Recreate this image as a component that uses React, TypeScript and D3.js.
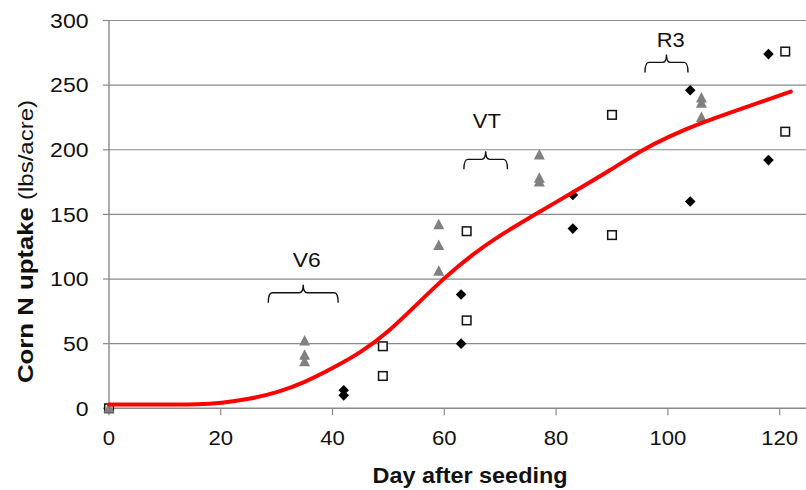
import React, { useEffect, useRef } from "react";
import * as d3 from "d3";

// open squares
const squareDays = [0, 49, 49, 64, 64, 90, 90, 121, 121];
const squareUptake = [0, 48, 25, 68, 137, 227, 134, 276, 214];
// black diamonds
const diamondDays = [42, 42, 63, 63, 83, 83, 104, 104, 118, 118];
const diamondUptake = [14, 10, 88, 50, 165, 139, 246, 160, 274, 192];
// gray triangles
const triangleDays = [0, 35, 35, 35, 59, 59, 59, 77, 77, 77, 106, 106, 106];
const triangleUptake = [0, 52, 41, 36, 142, 126, 106, 196, 178, 175, 240, 236, 225];

// red fitted curve
const curveDays = [0, 10, 16, 20, 25, 30, 35, 40, 45, 50, 55, 60, 65, 70, 77, 83, 90, 95, 100, 106, 114, 122];
const curveUptake = [3, 3, 3, 4, 7, 12, 20, 31, 43, 59, 80, 101, 119, 134, 152, 167, 185, 199, 210, 221, 233, 245];

// growth stage brackets
const stageLabels = ["V6", "VT", "R3"];
const stageStart = [28.5, 63.5, 95.9];
const stageEnd = [41, 71.3, 103.6];
const stageLevel = [89.4, 192.6, 267.6];
const stageLabelDay = [35.4, 67.6, 100.5];
const stageLabelValue = [109.5, 216.5, 279.7];

const xTicks = [0, 20, 40, 60, 80, 100, 120];
const yTicks = [0, 50, 100, 150, 200, 250, 300];

const App = () => {
  const ref = useRef<SVGSVGElement>(null);

  useEffect(() => {
    const width = 806,
      height = 490;
    const svg = d3.select(ref.current).attr("width", width).attr("height", height);
    svg.selectAll("*").remove();

    const x = d3.scaleLinear().domain([0, 125]).range([109, 807.6]);
    const y = d3.scaleLinear().domain([0, 300]).range([408.3, 20.5]);
    const grey = "#8a8a8a";
    const font = "'Liberation Sans', Arial, sans-serif";

    // grid lines
    svg
      .selectAll(".grid")
      .data(yTicks.filter((d) => d > 0))
      .join("line")
      .attr("class", "grid")
      .attr("x1", x(0))
      .attr("x2", width)
      .attr("y1", (d) => y(d))
      .attr("y2", (d) => y(d))
      .attr("stroke", grey)
      .attr("stroke-width", 1.2);

    // axes lines
    svg.append("line").attr("x1", x(0)).attr("x2", width).attr("y1", y(0)).attr("y2", y(0)).attr("stroke", grey).attr("stroke-width", 1.4);
    svg.append("line").attr("x1", x(0)).attr("x2", x(0)).attr("y1", y(300)).attr("y2", y(0)).attr("stroke", grey).attr("stroke-width", 1.4);

    // y ticks + labels
    svg
      .selectAll(".ytick")
      .data(yTicks)
      .join("line")
      .attr("class", "ytick")
      .attr("x1", x(0) - 6)
      .attr("x2", x(0))
      .attr("y1", (d) => y(d))
      .attr("y2", (d) => y(d))
      .attr("stroke", grey)
      .attr("stroke-width", 1.2);
    svg
      .selectAll(".ylab")
      .data(yTicks)
      .join("text")
      .attr("class", "ylab")
      .attr("x", 88.5)
      .attr("y", (d) => y(d) + 7.2)
      .attr("text-anchor", "end")
      .attr("font-family", font)
      .attr("font-size", 20)
      .attr("fill", "#111")
      .attr("textLength", (d) => String(d).length * 12.8)
      .attr("lengthAdjust", "spacingAndGlyphs")
      .text((d) => d);

    // x ticks + labels
    svg
      .selectAll(".xtick")
      .data(xTicks)
      .join("line")
      .attr("class", "xtick")
      .attr("x1", (d) => x(d))
      .attr("x2", (d) => x(d))
      .attr("y1", y(0))
      .attr("y2", y(0) + 7)
      .attr("stroke", grey)
      .attr("stroke-width", 1.2);
    svg
      .selectAll(".xlab")
      .data(xTicks)
      .join("text")
      .attr("class", "xlab")
      .attr("x", (d) => x(d))
      .attr("y", 445)
      .attr("text-anchor", "middle")
      .attr("font-family", font)
      .attr("font-size", 20)
      .attr("fill", "#111")
      .attr("textLength", (d) => String(d).length * 12.3)
      .attr("lengthAdjust", "spacingAndGlyphs")
      .text((d) => d);

    // axis titles
    svg
      .append("text")
      .attr("x", 470)
      .attr("y", 483)
      .attr("text-anchor", "middle")
      .attr("font-family", font)
      .attr("font-weight", "bold")
      .attr("font-size", 22)
      .attr("fill", "#111")
      .attr("textLength", 195)
      .attr("lengthAdjust", "spacingAndGlyphs")
      .text("Day after seeding");

    const yTitle = svg
      .append("text")
      .attr("transform", "translate(33,241.5) rotate(-90)")
      .attr("text-anchor", "middle")
      .attr("font-family", font)
      .attr("fill", "#111")
      .attr("textLength", 283)
      .attr("lengthAdjust", "spacingAndGlyphs");
    yTitle.append("tspan").attr("font-weight", "bold").attr("font-size", 22).text("Corn N uptake ");
    yTitle.append("tspan").attr("font-size", 20.5).text("(lbs/acre)");

    // stage brackets
    const stages = stageLabels.map((label, i) => ({
      label,
      x0: x(stageStart[i]),
      x1: x(stageEnd[i]),
      yb: y(stageLevel[i]),
      lx: x(stageLabelDay[i]),
      ly: y(stageLabelValue[i]),
    }));
    svg
      .selectAll(".bracket")
      .data(stages)
      .join("path")
      .attr("class", "bracket")
      .attr("d", (d) => {
        const xc = (d.x0 + d.x1) / 2;
        const yb = d.yb;
        return `M${d.x0},${yb + 10} Q${d.x0},${yb} ${d.x0 + 4},${yb} L${xc - 4},${yb} Q${xc},${yb} ${xc},${yb - 8} Q${xc},${yb} ${xc + 4},${yb} L${d.x1 - 4},${yb} Q${d.x1},${yb} ${d.x1},${yb + 10}`;
      })
      .attr("fill", "none")
      .attr("stroke", "#111")
      .attr("stroke-width", 1.4);
    svg
      .selectAll(".stage-label")
      .data(stages)
      .join("text")
      .attr("class", "stage-label")
      .attr("x", (d) => d.lx)
      .attr("y", (d) => d.ly)
      .attr("text-anchor", "middle")
      .attr("font-family", font)
      .attr("font-size", 21)
      .attr("fill", "#111")
      .attr("textLength", 28)
      .attr("lengthAdjust", "spacingAndGlyphs")
      .text((d) => d.label);

    // SQUARES
    const squares = squareDays.map((d, i) => [d, squareUptake[i]]);
    svg
      .selectAll(".sq")
      .data(squares)
      .join("rect")
      .attr("class", "sq")
      .attr("x", (d) => x(d[0]) - 4.3)
      .attr("y", (d) => y(d[1]) - 4.3)
      .attr("width", 8.6)
      .attr("height", 8.6)
      .attr("fill", "white")
      .attr("stroke", "#111")
      .attr("stroke-width", 1.5);

    // DIAMONDS
    const diamonds = diamondDays.map((d, i) => [d, diamondUptake[i]]);
    svg
      .selectAll(".dm")
      .data(diamonds)
      .join("path")
      .attr("class", "dm")
      .attr("d", d3.symbol(d3.symbolSquare, 56)())
      .attr("transform", (d) => `translate(${x(d[0])},${y(d[1])}) rotate(45)`)
      .attr("fill", "#000");

    // TRIANGLES
    const triangles = triangleDays.map((d, i) => [d, triangleUptake[i]]);
    svg
      .selectAll(".tri")
      .data(triangles)
      .join("path")
      .attr("class", "tri")
      .attr("d", "M0,-6 L5.5,4.5 L-5.5,4.5 Z")
      .attr("transform", (d) => `translate(${x(d[0])},${y(d[1])})`)
      .attr("fill", "#808080");

    // RED CURVE
    const line = d3
      .line<number>()
      .x((d) => x(d))
      .y((d, i) => y(curveUptake[i]))
      .curve(d3.curveBasis);
    svg
      .append("path")
      .attr("d", line(curveDays))
      .attr("fill", "none")
      .attr("stroke", "#ff0000")
      .attr("stroke-width", 4)
      .attr("stroke-linecap", "round");
  }, []);

  return (
    <div>
      <svg ref={ref} style={{ position: "absolute", left: 0, top: 0, background: "white" }}></svg>
    </div>
  );
};

export default App;
